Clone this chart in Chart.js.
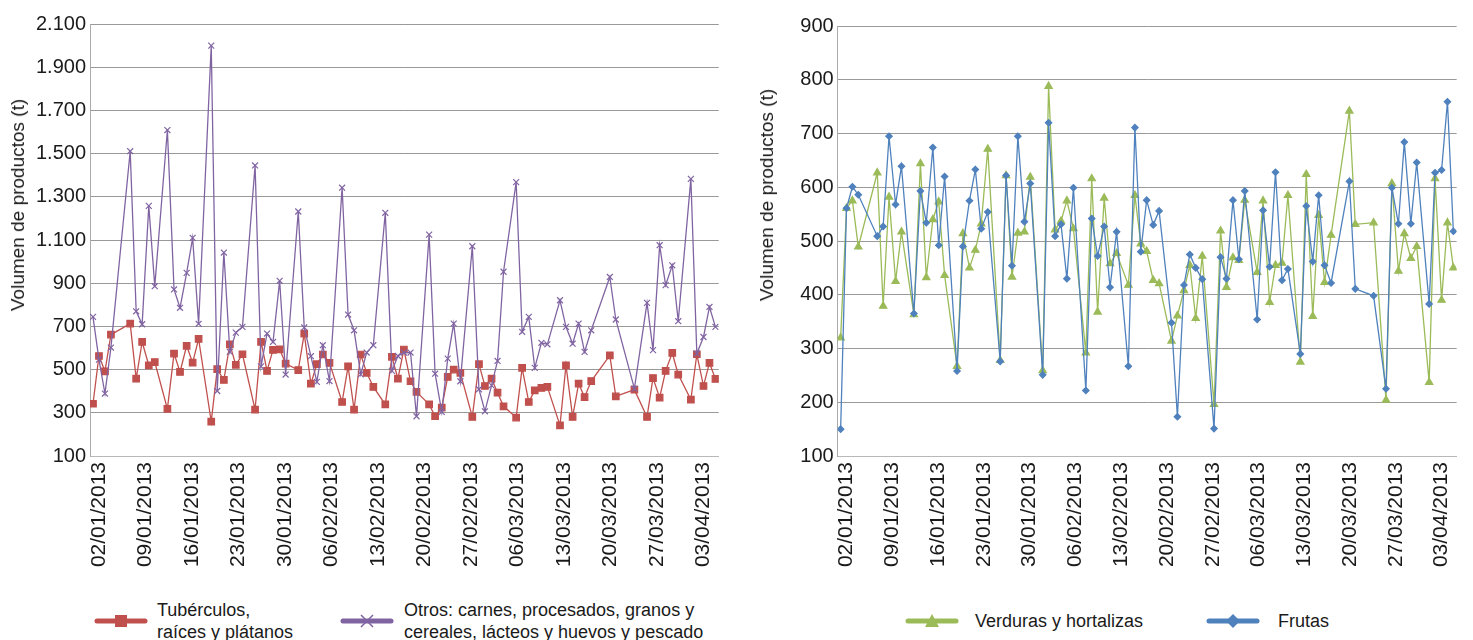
<!DOCTYPE html>
<html lang="es">
<head>
<meta charset="utf-8">
<title>Volumen de productos</title>
<script src="https://cdn.jsdelivr.net/npm/chart.js@4.4.1/dist/chart.umd.min.js"></script>
<style>
    html, body { margin: 0; padding: 0; background: #fff; }
    body {
        width: 1473px; height: 640px; position: relative; overflow: hidden;
        font-family: "Liberation Sans", Arial, sans-serif; color: #1a1a1a;
    }
    .chart-box { position: absolute; top: 0; height: 585px; }
    #box-left { left: 0; width: 735px; }
    #box-right { left: 745px; width: 728px; }
    .ytitle {
        position: absolute; font-size: 19px; line-height: 22px; white-space: nowrap;
        transform: translate(-50%, -50%) rotate(-90deg);
    }
    .lg-mark { position: absolute; top: 613px; }
    .lg-text { position: absolute; font-size: 18px; line-height: 22px; white-space: nowrap; }
</style>
</head>
<body>
<div class="chart-box" id="box-left"><canvas id="chart-left"></canvas></div>
<div class="chart-box" id="box-right"><canvas id="chart-right"></canvas></div>

<!-- axis titles -->
<div class="ytitle" style="left:18px; top:205px;">Volumen de productos (t)</div>
<div class="ytitle" style="left:767px; top:195px;">Volumen de productos (t)</div>

<!-- legends -->
<svg class="lg-mark" style="left:94px" width="56" height="16">
    <line x1="3" y1="8" x2="51" y2="8" stroke="#C0504D" stroke-width="5" stroke-linecap="round"/>
    <rect x="21" y="2" width="12" height="12" fill="#C0504D"/>
</svg>
<div class="lg-text" style="left:157px; top:599px;">Tubérculos,<br>raíces y plátanos</div>
<svg class="lg-mark" style="left:340px" width="56" height="16">
    <line x1="3" y1="8" x2="51" y2="8" stroke="#8064A2" stroke-width="5" stroke-linecap="round"/>
    <path d="M21 2 L33 14 M33 2 L21 14" stroke="#8064A2" stroke-width="1.5"/>
</svg>
<div class="lg-text" style="left:404px; top:599px;">Otros: carnes, procesados, granos y<br>cereales, lácteos y huevos y pescado</div>

<svg class="lg-mark" style="left:905px" width="56" height="16">
    <line x1="3" y1="8" x2="51" y2="8" stroke="#9BBB59" stroke-width="5" stroke-linecap="round"/>
    <path d="M27 1 L34 14 L20 14 Z" fill="#9BBB59"/>
</svg>
<div class="lg-text" style="left:975px; top:610px;">Verduras y hortalizas</div>
<svg class="lg-mark" style="left:1206px" width="56" height="16">
    <line x1="3" y1="8" x2="51" y2="8" stroke="#4F81BD" stroke-width="5" stroke-linecap="round"/>
    <path d="M27 1 L34 8 L27 15 L20 8 Z" fill="#4F81BD"/>
</svg>
<div class="lg-text" style="left:1278px; top:610px;">Frutas</div>

<script>
// days counted from 02/01/2013 (positions)
const tickDays = [0, 7, 14, 21, 28, 35, 42, 49, 56, 63, 70, 77, 84, 91];
const days = [
    -0.9, 0, 0.9, 1.8, 4.7, 5.6, 6.5, 7.5, 8.4, 10.3, 11.3, 12.2, 13.2, 14.1, 15.0,
    16.9, 17.8, 18.8, 19.7, 20.6, 21.6, 23.5, 24.4, 25.3, 26.2, 27.2, 28.1, 30.0,
    30.9, 31.9, 32.8, 33.7, 34.7, 36.6, 37.5, 38.4, 39.4, 40.3, 41.3, 43.1, 44.1,
    45.0, 45.9, 46.9, 47.8, 49.7, 50.6, 51.6, 52.5, 53.4, 54.4, 56.2, 57.2, 58.1,
    59.1, 60.0, 60.9, 62.8, 63.7, 64.7, 65.6, 66.6, 67.5, 69.4, 70.3, 71.3, 72.2,
    73.1, 74.1, 76.9, 77.8, 80.6, 82.5, 83.4, 84.4, 85.3, 86.3, 87.2, 89.1, 90.0,
    91.0, 91.9, 92.8
];

const tuberculos = [
    342, 563, 492, 662, 713, 458, 628, 520, 535, 318, 574, 489, 610, 532, 642,
    259, 502, 452, 617, 522, 571, 315, 628, 494, 591, 594, 528, 498,
    667, 435, 525, 570, 531, 350, 515, 315, 570, 485, 420, 339, 559, 458, 593,
    446, 397, 339, 284, 324, 466, 500, 485, 281, 525, 424, 458, 393, 330,
    278, 508, 350, 404, 415, 420, 242, 520, 281, 435, 373, 447, 566, 376, 407,
    281, 461, 370, 494, 577, 477, 361, 571, 424, 531, 457
];
const otros = [
    744, 546, 389, 602, 1511, 770, 710, 1258, 886, 1609, 871, 786, 948, 1110, 712,
    2000, 401, 1042, 582, 671, 698, 1445, 515, 667, 628, 911, 477, 1232,
    695, 562, 443, 613, 447, 1342, 755, 682, 478, 579, 613, 1226, 494, 563, 579,
    579, 284, 1125, 481, 304, 551, 713, 446, 1071, 409, 307, 427, 540, 953,
    1368, 675, 744, 508, 624, 617, 821, 698, 620, 713, 582, 682, 929, 732, 412,
    809, 590, 1076, 891, 983, 724, 1383, 574, 651, 790, 698
];
const verduras = [
    320, 561, 575, 489, 627, 379, 582, 425, 517, 363, 644, 432, 540, 573, 436,
    267, 514, 450, 483, 532, 671, 278, 622, 433, 515, 517, 619, 259,
    788, 521, 537, 575, 523, 292, 616, 368, 580, 458, 477, 418, 585, 495, 481,
    427, 421, 314, 361, 408, 455, 356, 472, 196, 519, 414, 469, 464, 576,
    442, 575, 386, 455, 459, 585, 275, 624, 360, 548, 423, 511, 742, 531, 534,
    204, 607, 444, 514, 468, 490, 237, 616, 390, 534, 450
];
const frutas = [
    150, 561, 601, 586, 509, 527, 695, 568, 639, 365, 593, 534, 674, 492, 620,
    258, 490, 575, 633, 523, 554, 276, 622, 454, 695, 536, 607, 251,
    720, 509, 531, 430, 599, 222, 542, 472, 527, 414, 517, 267, 711, 480, 576,
    530, 556, 348, 173, 418, 475, 450, 429, 151, 470, 430, 576, 466, 593,
    354, 557, 452, 628, 427, 448, 290, 565, 462, 585, 455, 422, 611, 411, 398,
    225, 599, 532, 684, 532, 646, 383, 627, 632, 759, 518
];

const FONT = '"Liberation Sans", Arial, sans-serif';
const START = Date.UTC(2013, 0, 2);

function pad(n) { return n < 10 ? '0' + n : '' + n; }
function fmtDate(day) {
    const d = new Date(START + day * 86400000);
    return pad(d.getUTCDate()) + '/' + pad(d.getUTCMonth() + 1) + '/' + d.getUTCFullYear();
}
function fmtNum(v) {
    return String(v).replace(/\B(?=(\d{3})+(?!\d))/g, '.');
}
function points(arr) {
    return days.map((d, i) => ({ x: d, y: arr[i] }));
}

function makeChart(id, opts) {
    const ctx = document.getElementById(id).getContext('2d');
    return new Chart(ctx, {
        type: 'line',
        data: { datasets: opts.datasets },
        options: {
            responsive: true,
            maintainAspectRatio: false,
            animation: false,
            layout: { padding: { left: 0, right: opts.padRight, top: opts.padTop, bottom: 0 } },
            plugins: { legend: { display: false }, tooltip: { enabled: false } },
            scales: {
                x: {
                    type: 'linear',
                    min: -1.35,
                    max: 93.3,
                    afterBuildTicks: axis => { axis.ticks = tickDays.map(v => ({ value: v })); },
                    afterFit: scale => { scale.height = 129; },
                    grid: { display: false, drawTicks: false },
                    border: { display: true, color: '#b8b8b8', width: 1 },
                    ticks: {
                        autoSkip: false,
                        minRotation: 90,
                        maxRotation: 90,
                        padding: 6,
                        color: '#1a1a1a',
                        font: { family: FONT, size: 21 },
                        callback: v => fmtDate(v)
                    }
                },
                y: {
                    min: opts.yMin,
                    max: opts.yMax,
                    afterFit: scale => { scale.width = opts.axisWidth; },
                    grid: { color: '#999999', lineWidth: 1, drawTicks: false },
                    border: { display: true, color: '#aaaaaa', width: 1 },
                    ticks: {
                        stepSize: opts.yStep,
                        padding: 4,
                        color: '#1a1a1a',
                        font: { family: FONT, size: 20 },
                        callback: v => fmtNum(v)
                    }
                }
            }
        }
    });
}

const lineBase = { borderWidth: 1.3, fill: false, tension: 0, pointBorderWidth: 1.2 };

makeChart('chart-left', {
    yMin: 100, yMax: 2100, yStep: 200,
    axisWidth: 90, padRight: 13, padTop: 24,
    datasets: [
        Object.assign({}, lineBase, {
            label: 'Tubérculos, raíces y plátanos',
            data: points(tuberculos),
            borderColor: '#C0504D', backgroundColor: '#C0504D',
            pointStyle: 'rect', pointRadius: 4.6, order: 1
        }),
        Object.assign({}, lineBase, {
            label: 'Otros: carnes, procesados, granos y cereales, lácteos y huevos y pescado',
            data: points(otros),
            borderColor: '#8064A2', backgroundColor: '#8064A2',
            pointStyle: 'crossRot', pointRadius: 4.2, order: 0
        })
    ]
});

makeChart('chart-right', {
    yMin: 100, yMax: 900, yStep: 100,
    axisWidth: 92.7, padRight: 9, padTop: 26,
    datasets: [
        Object.assign({}, lineBase, {
            label: 'Verduras y hortalizas',
            data: points(verduras),
            borderColor: '#9BBB59', backgroundColor: '#9BBB59',
            pointStyle: 'triangle', pointRadius: 4.2, order: 1
        }),
        Object.assign({}, lineBase, {
            label: 'Frutas',
            data: points(frutas),
            borderColor: '#4F81BD', backgroundColor: '#4F81BD',
            pointStyle: 'rectRot', pointRadius: 3.2, order: 0
        })
    ]
});
</script>
</body>
</html>
